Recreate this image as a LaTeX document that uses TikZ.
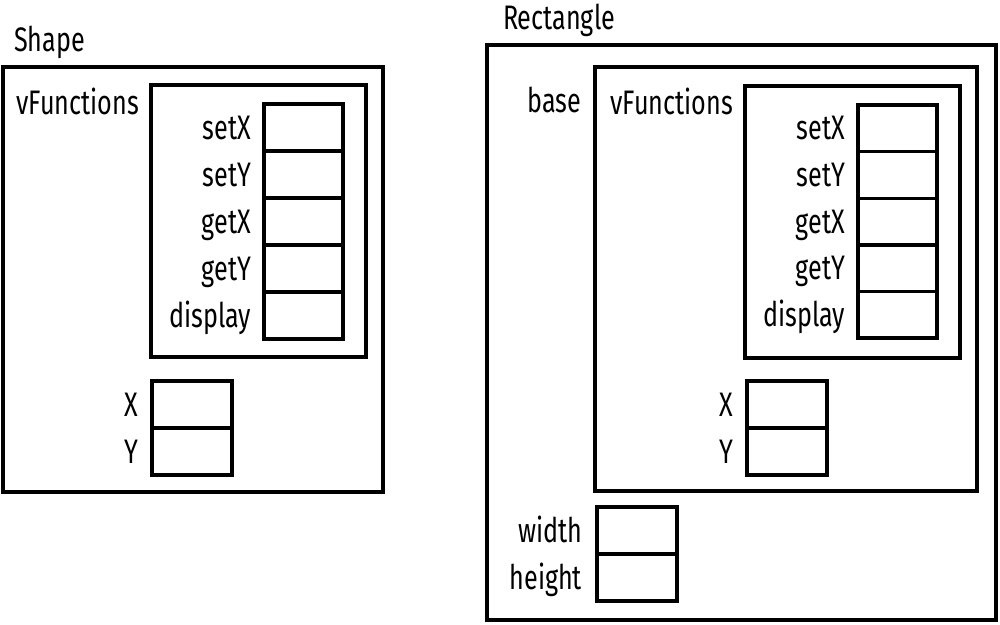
\documentclass[tikz,border=0pt]{standalone}
\usepackage{fontspec}
\setmainfont[FakeStretch=0.74]{Fira Sans}
\usetikzlibrary{calc}
\tikzset{
  box/.style={draw, line width=3.4pt, line join=miter},
  cell/.style={draw, line width=3.4pt, inner sep=0pt, outer sep=0pt, minimum width=79pt, minimum height=47pt, anchor=north west},
  lbl/.style={inner sep=0pt, outer sep=0pt, font=\fontsize{34}{38}\selectfont, text height=29pt, text depth=6pt},
}
\begin{document}
\begin{tikzpicture}[x=1pt,y=-1pt]
\useasboundingbox (0,0) rectangle (1000,624);
% ---------- Shape ----------
\node[lbl, anchor=base west] (tshape) at (14,51) {Shape};
\draw[box] (3,67) rectangle (383,492);
\draw[box] (151,85) rectangle (366,357);
\node[lbl, anchor=base east] (vf1) at (139,114) {vFunctions};
\foreach \t [count=\i from 0] in {setX,setY,getX,getY,display}{
  \node[cell] (a\i) at (264,{104+47*\i}) {};
  \node[lbl, anchor=east, xshift=-13pt] (la\i) at (a\i.west) {\t};
}
\foreach \t [count=\i from 0] in {X,Y}{
  \node[cell, minimum width=80pt] (b\i) at (152,{381+47*\i}) {};
  \node[lbl, anchor=east, xshift=-14pt] (lb\i) at (b\i.west) {\t};
}
% ---------- Rectangle ----------
\node[lbl, anchor=base west] (trect) at (503,29) {Rectangle};
\draw[box] (487,45) rectangle (996,620);
\draw[box] (595,67) rectangle (977,491);
\node[lbl, anchor=base east] (lbase) at (581,112) {base};
\draw[box] (745,86) rectangle (960,358);
\node[lbl, anchor=base east] (vf2) at (733,114) {vFunctions};
\foreach \t [count=\i from 0] in {setX,setY,getX,getY,display}{
  \node[cell, minimum height=46.6pt] (c\i) at (858,{105+46.6*\i}) {};
  \node[lbl, anchor=east, xshift=-13pt] (lc\i) at (c\i.west) {\t};
}
\foreach \t [count=\i from 0] in {X,Y}{
  \node[cell, minimum width=80pt] (d\i) at (747,{381+47*\i}) {};
  \node[lbl, anchor=east, xshift=-14pt] (ld\i) at (d\i.west) {\t};
}
\foreach \t [count=\i from 0] in {width,height}{
  \node[cell, minimum width=80pt] (e\i) at (597,{507+47*\i}) {};
  \node[lbl, anchor=east, xshift=-15pt] (le\i) at (e\i.west) {\t};
}
\end{tikzpicture}
\end{document}
